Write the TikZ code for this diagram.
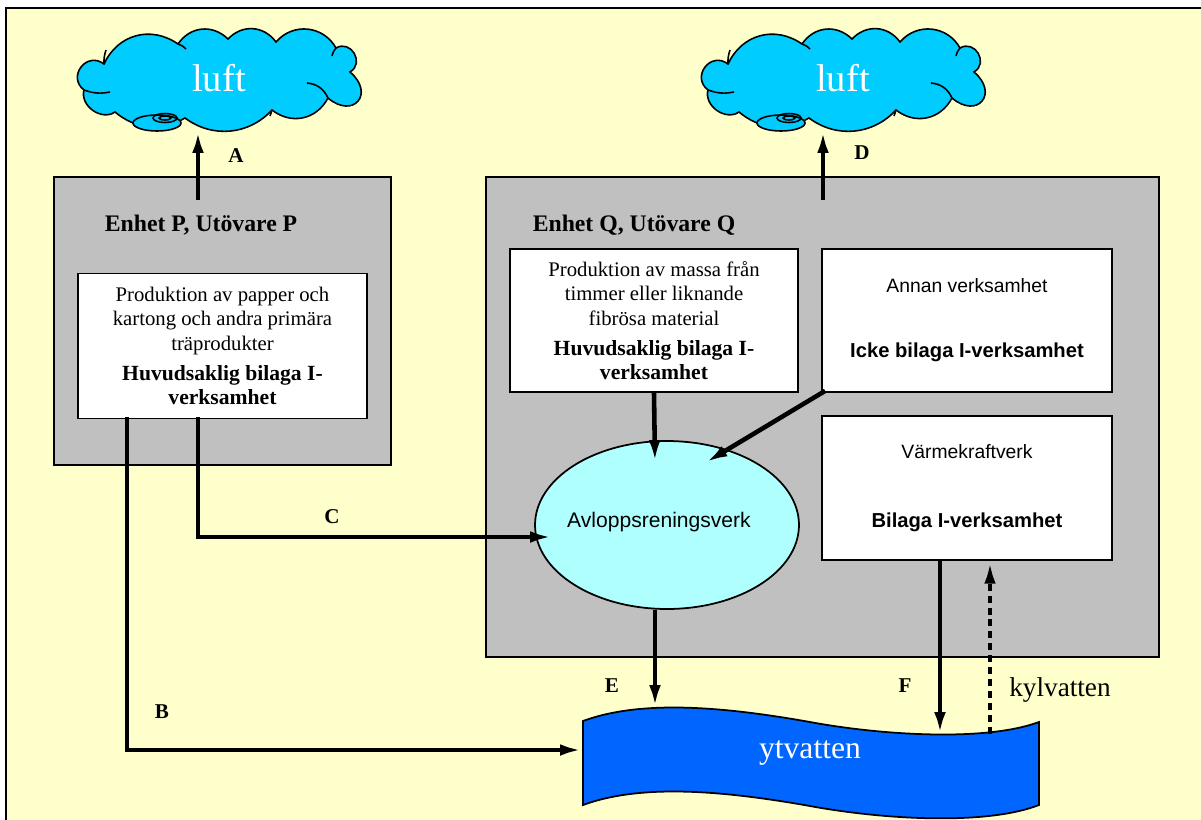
\documentclass[tikz,border=0pt]{standalone}
\usepackage{fontspec}
\setmainfont{Liberation Serif}
\setsansfont{Liberation Sans}
\usetikzlibrary{arrows.meta}
\usetikzlibrary{shapes.geometric}
\tikzset{>={Latex[length=13pt,width=6.5pt]}}
\definecolor{paperyellow}{HTML}{FFFFCC}
\definecolor{unitgray}{HTML}{C0C0C0}
\definecolor{airblue}{HTML}{00CCFF}
\definecolor{plantcyan}{HTML}{B0FFFF}
\definecolor{waterblue}{HTML}{0066FF}
\tikzset{
  unitbox/.style={draw, fill=unitgray, line width=1.1pt},
  activity/.style={draw, fill=white, line width=1pt, align=center, inner sep=0pt},
  puff/.style={line width=0.9pt},
  luftcloud/.pic={
    \draw[puff, fill=airblue] (84, 90) to[bend left=90, looseness=1.7] (104, 64)
        to[bend left=50, looseness=1.1] (178, 44) to[bend left=50, looseness=1.1] (228, 39)
        to[bend left=50, looseness=1.1] (276, 42) to[bend left=55, looseness=1.1] (336, 48)
        to[bend left=90, looseness=1.6] (350, 72) to[bend left=90, looseness=2.5] (328, 98)
        to[bend left=50, looseness=1.1] (272, 110) to[bend left=42] (185, 118)
        to[bend left=35] (115, 112) to[bend left=70, looseness=1.1] (84, 90) -- cycle;
    \draw[puff] (84, 90) to[bend right=15] (110, 92);
    \draw[puff] (307, 83) to[bend left=30] (328, 98);
    \draw[puff] (104, 64) to[bend left=10] (106, 50);
    \draw[puff] (178, 44) to[bend left=15] (186, 49);
    \draw[puff] (336, 48) to[bend right=15] (332, 56);
    \draw[puff] (272, 110) to[bend left=10] (270, 116);
    \draw[puff, fill=airblue] (157, 123) ellipse [x radius=0.48cm, y radius=0.16cm];
    \draw[puff] (165, 118) ellipse [x radius=0.24cm, y radius=0.09cm];
    \draw[puff] (165, 118) ellipse [x radius=0.12cm, y radius=0.04cm];
  },
  airtext/.style={text=white, font=\fontsize{22pt}{24pt}\selectfont},
  flow/.style={line width=2.6pt},
  coolflow/.style={line width=2.5pt, dash pattern=on 4pt off 2.8pt},
  flowlabel/.style={font=\bfseries\fontsize{12pt}{14pt}\selectfont},
  unittitle/.style={font=\bfseries\fontsize{13.5pt}{15pt}\selectfont},
  timestext/.style={font=\fontsize{11.8pt}{14pt}\selectfont},
  arialtext/.style={font=\sffamily\fontsize{11pt}{13pt}\selectfont},
}
\newcommand*{\mainbold}{\bfseries\fontsize{12.3pt}{14pt}\selectfont}
\newcommand*{\sidebold}{\sffamily\bfseries\fontsize{11.5pt}{13pt}\selectfont}

\begin{document}
\begin{tikzpicture}[x=0.02cm, y=-0.02cm]
            \useasboundingbox (0, 0) rectangle (1201, 819);
            \fill[white] (0, 0) rectangle (1201, 819);
            \draw[fill=paperyellow, line width=1.1pt] (6, 8) rectangle (1215, 835);
            % clouds
            \pic at (0, 0) {luftcloud};
            \pic at (624, 0) {luftcloud};
            \node[airtext] (luftP) at (219, 78) {luft};
            \node[airtext] (luftQ) at (843, 78) {luft};
            \coordinate (tipA) at (198, 130);
            \coordinate (tipD) at (823, 130);
            % units
            \node[unitbox, minimum width=6.74cm, minimum height=5.76cm] (unitP) at (222.5, 321) {};
            \node[unitbox, minimum width=13.46cm, minimum height=9.6cm] (unitQ) at (822.5, 417) {};
            \node[unittitle] (titleP) at (201, 225) {Enhet P, Utövare P};
            \node[unittitle] (titleQ) at (634, 225) {Enhet Q, Utövare Q};
            \node[activity, timestext, minimum width=5.78cm, minimum height=2.9cm] (paper) at (222.5, 346)
                {Produktion av papper och\\kartong och andra primära\\träprodukter\\[3pt]{\mainbold Huvudsaklig bilaga I-}\\{\mainbold verksamhet}};
            \node[activity, timestext, minimum width=5.76cm, minimum height=2.86cm] (pulp) at (654, 320.5)
                {Produktion av massa från\\timmer eller liknande\\fibrösa material\\[3pt]{\mainbold Huvudsaklig bilaga I-}\\{\mainbold verksamhet}};
            \node[activity, arialtext, minimum width=5.8cm, minimum height=2.86cm] (other) at (967, 320.5)
                {Annan verksamhet\\[24pt]{\sidebold Icke bilaga I-verksamhet}};
            \node[activity, arialtext, minimum width=5.8cm, minimum height=2.88cm] (power) at (967, 488)
                {Värmekraftverk\\[26pt]{\sidebold Bilaga I-verksamhet}};
            \node[ellipse, draw, fill=plantcyan, line width=1pt, inner sep=0pt,
                minimum width=5.28cm, minimum height=3.36cm] (plant) at (667, 525) {};
            \node[font=\sffamily\fontsize{12pt}{14pt}\selectfont] (plantname) at (659, 522) {Avloppsreningsverk};
            % surface water
            \draw[fill=waterblue, line width=1pt] (583, 721) .. controls (640, 700) and (720, 706) .. (810, 722)
                .. controls (880, 735) and (985, 742) .. (1039, 722) -- (1039, 805)
                .. controls (985, 826) and (880, 819) .. (810, 806)
                .. controls (720, 790) and (640, 784) .. (583, 805) -- cycle;
            \node[text=white, font=\fontsize{18pt}{20pt}\selectfont] (water) at (810, 753) {ytvatten};
            \coordinate (waterE) at (655, 708);
            \coordinate (waterF) at (940, 735);
            \coordinate (waterK) at (990, 734);
            \coordinate (waterB) at (583, 750);
            % flows
            \coordinate (startA) at (198, 200);
            \coordinate (startD) at (823, 200);
            \draw[flow, ->] (startA) -- (tipA);
            \draw[flow, ->] (startD) -- (tipD);
            \coordinate (startB) at (127, 417);
            \coordinate (startC) at (198, 417);
            \draw[flow, ->] (startB) -- (127, 750) -- (waterB);
            \draw[flow, ->] (startC) -- (198, 537) -- (553, 537);
            \draw[flow, ->] (pulp.south) -- (655, 463);
            \draw[flow, ->] (other.south west) ++(4, -2) -- (705, 463);
            \draw[flow, ->] (plant.south -| waterE) -- (waterE);
            \draw[flow, ->] (power.south -| waterF) -- (waterF);
            \draw[coolflow, ->] (waterK) -- (waterK |- power.south);
            % labels
            \node[flowlabel] (labelA) at (236, 156) {A};
            \node[flowlabel] (labelD) at (862, 153) {D};
            \node[flowlabel] (labelC) at (332, 517) {C};
            \node[flowlabel] (labelB) at (162, 712) {B};
            \node[flowlabel] (labelE) at (612, 686) {E};
            \node[flowlabel] (labelF) at (905, 686) {F};
            \node[font=\fontsize{15.5pt}{17pt}\selectfont] (cooling) at (1060, 690) {kylvatten};
        \end{tikzpicture}
\end{document}
